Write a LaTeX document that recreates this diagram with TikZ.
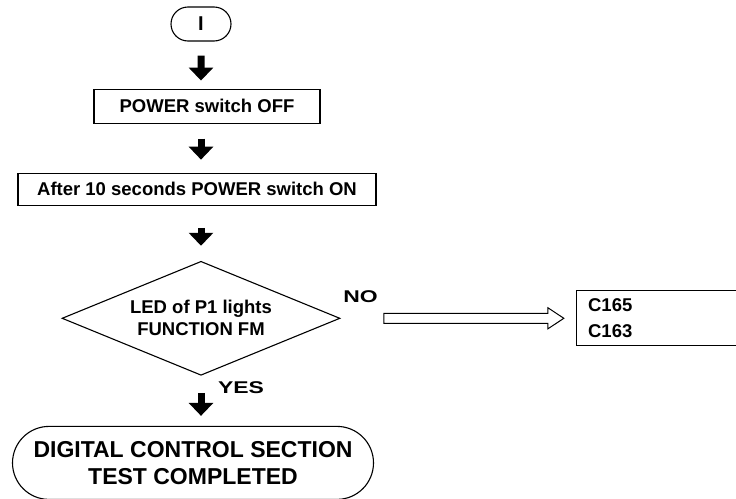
\documentclass[tikz,border=0pt]{standalone}
\usepackage{fontspec}
\setmainfont{Liberation Sans}
\newfontfamily\widefont[FakeStretch=1.35]{Liberation Sans}
\usetikzlibrary{arrows.meta,shapes.geometric,shapes.misc,shapes.arrows,positioning}

\tikzset{
  chartline/.style={draw,line width=1.1pt},
  termbox/.style={chartline,rounded rectangle,inner sep=0pt},
  stepbox/.style={chartline,rectangle,inner sep=0pt},
  testbox/.style={chartline,diamond,aspect=2.4,inner sep=0pt,
    minimum width=278pt,minimum height=114pt,align=center},
  fat/.style={line width=7pt,-{Triangle[length=13pt 0,width=24pt 0]}},
  hollow/.style={single arrow,draw,line width=1pt,inner sep=0pt,
    text height=4.5pt,text depth=4.5pt,single arrow head extend=5.5pt,
    single arrow tip angle=67,minimum height=180pt},
  answer/.style={font=\widefont\bfseries\fontsize{17}{20}\selectfont}
}

\begin{document}
\begin{tikzpicture}[x=1pt,y=-1pt,font=\bfseries\fontsize{18.5}{22}\selectfont]
\useasboundingbox (0,0) rectangle (736,498);
\node[termbox,minimum width=60pt,minimum height=34pt,
  font=\bfseries\fontsize{20}{22}\selectfont] (Start) at (201,24) {I};
\node[stepbox,minimum width=226pt,minimum height=34pt,below=47pt of Start,xshift=6pt] (Off) {POWER switch OFF};
\node[stepbox,minimum width=358pt,minimum height=32pt,below=49pt of Start|-Off.south,xshift=-4pt] (After) {After 10 seconds POWER switch ON};
\node[testbox,below=55pt of Start|-After.south] (Test) {LED of P1 lights\\FUNCTION FM};
\node[stepbox,minimum width=160pt,minimum height=55pt,text width=136pt,align=left,
  inner xsep=12pt,font=\bfseries\fontsize{18.5}{26}\selectfont,right=235pt of Test] (Fix) {C165\\C163};
\node[termbox,minimum width=361pt,minimum height=73pt,align=center,
  font=\bfseries\fontsize{23}{27}\selectfont,below=50pt of Test,xshift=-8pt] (Done) {DIGITAL CONTROL SECTION\\TEST COMPLETED};

\draw[fat,shorten <=14pt,shorten >=8pt] (Start) -- (Start|-Off.north);
\draw[fat,shorten <=15pt,shorten >=13pt] (Start|-Off.south) -- (Start|-After.north);
\draw[fat,shorten <=22pt,shorten >=15pt] (Start|-After.south) -- (Test);
\draw[fat,shorten <=17pt,shorten >=10pt] (Test) -- (Start|-Done.north);
\path (Test.east) -- (Fix.west) node[hollow,midway,xshift=12pt] (NoArrow) {};
\node[answer] (No) at ([xshift=20pt,yshift=22pt]Test.east) {NO};
\node[answer] (Yes) at ([xshift=40pt,yshift=-12pt]Test.south) {YES};
\end{tikzpicture}
\end{document}
